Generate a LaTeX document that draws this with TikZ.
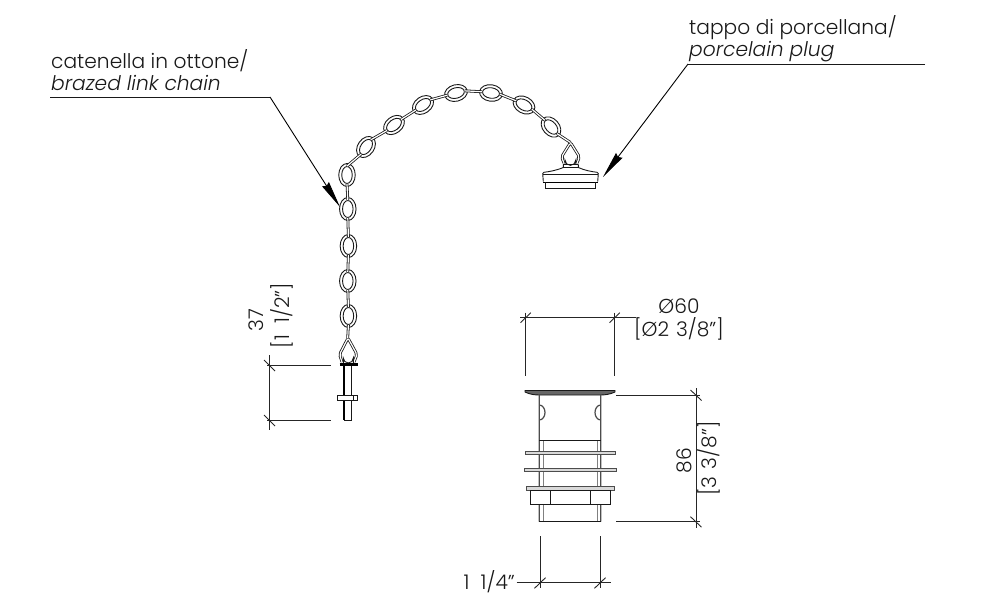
\documentclass[tikz,border=0pt]{standalone}
\usepackage{fontspec}
\setmainfont{Poppins}[UprightFont=* Light,ItalicFont=* Light Italic]
\usetikzlibrary{shapes.geometric,arrows.meta}

\newcommand{\gap}{\hspace{0.35em}}
\newcommand{\gapone}{\hspace{0.55em}}

\tikzset{
	ink/.style={draw=black!90,line width=0.9pt},
	dimline/.style={draw=black!85,line width=0.9pt},
	thick part/.style={draw=black,line width=1.6pt},
	grey wall/.style={draw=black!70,line width=1.2pt},
	inner wall/.style={draw=black!50,line width=1pt},
	ring/.style={draw=black!70,line width=0.9pt,fill=black!15},
	chainlink/.style={ellipse,draw=black!90,line width=0.9pt,minimum width=23pt,minimum height=16.5pt,inner sep=0pt},
	chainhole/.style={ellipse,draw=black!90,line width=0.9pt,minimum width=17pt,minimum height=10.5pt,inner sep=0pt},
	chainbar/.style={draw=black!90,line width=0.8pt,double,double distance=1.2pt},
	leader/.style={draw=black,line width=0.9pt,-{Stealth[length=27pt,width=8pt,inset=2pt]}},
	lab/.style={font=\fontsize{20.2}{22}\selectfont,inner sep=0pt,text=black!90},
}

\begin{document}
\begin{tikzpicture}[x=1pt,y=-1pt]
	\useasboundingbox (0,0) rectangle (995,609);

	% labels
	\node[lab,anchor=base west] (labchain) at (51,69) {catenella in ottone/};
	\node[lab,anchor=base west] (labchaineng) at (51,91) {\itshape brazed link chain};
	\node[lab,anchor=base west] (labplug) at (689,35) {tappo di porcellana/};
	\node[lab,anchor=base west] (labplugeng) at (689,57) {\itshape porcelain plug};

	% leaders
	\coordinate (chainstart) at (50,97);
	\coordinate (chainknee) at (270,97);
	\coordinate (chaintip) at (340,207);
	\coordinate (plugstart) at (925,64);
	\coordinate (plugknee) at (688,64);
	\coordinate (plugtip) at (603,177);
	\draw[ink] (chainstart) -- (chainknee);
	\draw[leader] (chainknee) -- (chaintip);
	\draw[ink] (plugstart) -- (plugknee);
	\draw[leader] (plugknee) -- (plugtip);

	% chain, from the pin up to the plug
	\foreach \x/\y/\r [count=\i] in {348.4/316/90,347.8/281/90,348.4/246/90,347.8/209/90,347/175/90,366/147/55,394/125/38,423/105/35,456/93/14,491/93/-8,524/105/-28,551/127/-48} {
		\node[chainlink,rotate=\r] (link\i) at (\x,\y) {};
		\node[chainhole,rotate=\r] (hole\i) at (\x,\y) {};
	}
	\foreach \i [remember=\i as \j (initially 1)] in {2,...,12}
		\draw[chainbar] (hole\j.east) -- (hole\i.west);

	% plug
	\draw[chainbar,rounded corners=2pt] (564,163) -- (561.5,157) -- (570.5,142.5) -- (579.5,157) -- (577,163);
	\coordinate (plugtop) at (570.5,142.5);
	\draw[chainbar] (hole12.east) -- (plugtop);
	\draw[ink,fill=white] (565,164) -- (565,160) arc[start angle=180,end angle=0,radius=5.4] -- (575.8,164);
	\draw[ink] (563,164.5) -- (578,164.5);
	\draw[ink] (563.3,167.5) -- (578.3,167.5);
	\draw[ink] (563.3,164.5) -- (563.3,167.5) .. controls (556,170.5) and (550,171.5) .. (544,172.3) -- (542.7,173.5) -- (543.3,181.7);
	\draw[ink] (578.3,164.5) -- (578.3,167.5) .. controls (585,170.5) and (591,171.5) .. (597,172.3) -- (598.3,173.5) -- (597.7,181.7);
	\draw[ink] (543,174) -- (598,174);
	\draw[thick part] (543.3,182.5) -- (597.7,182.5);
	\draw[ink] (545,182.5) -- (545,188.3) -- (595.7,188.3) -- (595.7,182.5);

	% pin at the free end
	\draw[chainbar,rounded corners=2pt] (342,362) -- (339.5,354.5) -- (348,338) -- (357,354.5) -- (354,362);
	\coordinate (pintop) at (347.7,338);
	\draw[chainbar] (hole1.west) -- (pintop);
	\draw[ink,fill=white] (343.3,363) -- (343.3,358) arc[start angle=180,end angle=0,radius=5] -- (353.3,363);
	\draw[thick part,line width=2.4pt] (339.5,364.5) -- (357.5,364.5);
	\draw[ink] (344,366) -- (344,420) -- (351.5,420) -- (351.5,366);
	\draw[thick part] (344,366) -- (344,420);
	\draw[ink,fill=white] (337.7,395) rectangle (357.7,400);
	\draw[ink] (353,395) -- (353,400);

	% dimension of the pin
	\draw[dimline] (267,365) -- (331,365);
	\draw[dimline] (267,420) -- (331,420);
	\draw[dimline] (269,355) -- (269,430);
	\foreach \y in {365,420}
		\draw[dimline] (264,\y-5) -- ++(11,11);
	\node[lab,rotate=90] (lab37) at (256,320) {37};
	\node[lab,rotate=90] (lab37in) at (282,315.5) {[1\gapone1/2"]};

	% waste body
	\draw[ink,fill=black!60] (525,390.5) -- (615,390.5) -- (615,392) .. controls (610,394.5) and (604,395) .. (600.7,395) -- (539.3,395) .. controls (535,395) and (530,394.5) .. (525,392) -- cycle;
	\draw[grey wall] (539.3,395) -- (539.3,420) arc[start angle=90,end angle=-90,x radius=5.7,y radius=7.5] -- (539.3,521.7);
	\draw[grey wall] (600.7,395) -- (600.7,420) arc[start angle=90,end angle=270,x radius=5.7,y radius=7.5] -- (600.7,521.7);
	\draw[inner wall] (543,440) -- (543,521.7);
	\draw[inner wall] (597,440) -- (597,521.7);
	\draw[ink] (539.3,440) -- (600.7,440);
	\draw[ink] (539.3,521.7) -- (600.7,521.7);
	\draw[ring] (525,451) rectangle (615,454.7);
	\draw[ring] (524,468) rectangle (616,471.3);
	\draw[ring] (526,486) rectangle (614.3,490.3);
	\draw[ink,fill=white] (530,490.3) rectangle (610.7,504);
	\draw[ink] (550,490.3) -- (550,504);
	\draw[ink] (590,490.3) -- (590,504);

	% dimension of the flange
	\draw[dimline] (520,317.3) -- (636,317.3);
	\draw[dimline] (525.7,312.7) -- (525.7,375.7);
	\draw[dimline] (614.7,312.7) -- (614.7,375.7);
	\foreach \x in {525.7,614.7}
		\draw[dimline] (\x-5.2,322.7) -- ++(10.4,-10);
	\node[lab] (labdia) at (679,306.5) {Ø60};
	\node[lab] (labdiain) at (679,329) {[Ø2\gap3/8"]};

	% dimension of the height
	\draw[dimline] (616,395) -- (700,395);
	\draw[dimline] (616,521.7) -- (700,521.7);
	\draw[dimline] (696,388) -- (696,528);
	\foreach \y in {395,521.7}
		\draw[dimline] (690.5,\y-5) -- ++(11,10.5);
	\node[lab,rotate=90] (labheight) at (684,460.5) {86};
	\node[lab,rotate=90] (labheightin) at (709,458.5) {[3\gap3/8"]};

	% dimension of the thread
	\draw[dimline] (540,536) -- (540,588);
	\draw[dimline] (600,536) -- (600,588);
	\draw[dimline] (516.7,582.3) -- (611,582.3);
	\foreach \x in {540,600}
		\draw[dimline] (\x-5.5,588.3) -- ++(11,-10.6);
	\node[lab,anchor=east] (labthread) at (515,582) {1\gapone1/4"};
\end{tikzpicture}
\end{document}
